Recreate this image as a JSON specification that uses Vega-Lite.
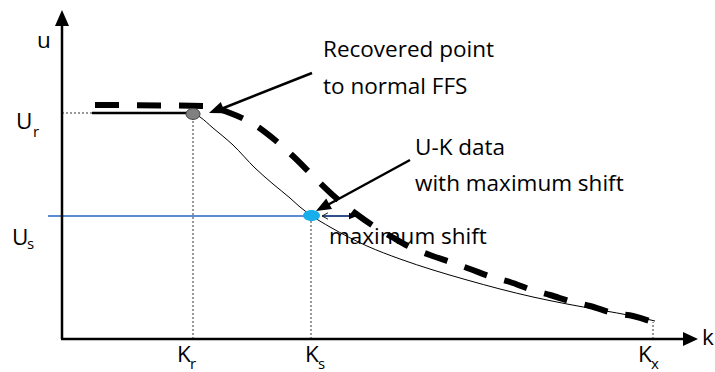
{
  "$schema": "https://vega.github.io/schema/vega-lite/v6.json",
  "width": 715,
  "height": 372,
  "autosize": "none",
  "padding": 0,
  "background": "white",
  "config": {"view": {"stroke": null}, "text": {"font": "Open Sans"}},
  "datasets": {
    "axes": [{"k": 62, "u": 33, "k2": 62, "u2": 348}, {"k": 61, "u": 33, "k2": 684, "u2": 33}],
    "dotted": [{"k": 62, "u": 259, "k2": 92, "u2": 259}, {"k": 193, "u": 33, "k2": 193, "u2": 252}, {"k": 311, "u": 33, "k2": 311, "u2": 151}, {"k": 653, "u": 33, "k2": 653, "u2": 50}],
    "uline": [{"k": 48, "u": 156, "k2": 304, "u2": 156}],
    "shift": [{"k": 322, "u": 156, "k2": 354, "u2": 156}],
    "flat": [{"k": 92, "u": 259, "k2": 193, "u2": 259}],
    "pointers": [{"k": 312, "u": 299, "k2": 216, "u2": 261}, {"k": 410, "u": 212, "k2": 322, "u2": 164}],
    "normal": [
      {"k": 95, "u": 267}, {"k": 205, "u": 266}, {"k": 230, "u": 259}, {"k": 255, "u": 247}, {"k": 275, "u": 232},
      {"k": 295, "u": 214}, {"k": 315, "u": 194}, {"k": 335, "u": 175}, {"k": 355, "u": 159}, {"k": 372, "u": 147},
      {"k": 392, "u": 135}, {"k": 410, "u": 125}, {"k": 430, "u": 117}, {"k": 450, "u": 110}, {"k": 470, "u": 103},
      {"k": 492, "u": 95}, {"k": 510, "u": 90}, {"k": 532, "u": 82}, {"k": 550, "u": 77}, {"k": 573, "u": 70},
      {"k": 590, "u": 66}, {"k": 613, "u": 59}, {"k": 633, "u": 56}, {"k": 655, "u": 49}
    ],
    "shifted": [
      {"k": 193, "u": 259}, {"k": 200, "u": 255}, {"k": 213, "u": 244}, {"k": 233, "u": 227}, {"k": 255, "u": 204},
      {"k": 273, "u": 188}, {"k": 290, "u": 174}, {"k": 300, "u": 165}, {"k": 312, "u": 156}, {"k": 330, "u": 145},
      {"k": 367, "u": 126}, {"k": 400, "u": 113}, {"k": 433, "u": 102}, {"k": 467, "u": 92}, {"k": 500, "u": 83},
      {"k": 533, "u": 75}, {"k": 567, "u": 68}, {"k": 600, "u": 62}, {"k": 633, "u": 56}, {"k": 655, "u": 51}
    ],
    "recovered": [{"k": 193, "u": 258}],
    "maxshift": [{"k": 311.5, "u": 156.5}],
    "labels": [
      {"k": 37, "u": 324, "t": "u"}, {"k": 16, "u": 243, "t": "U"}, {"k": 12, "u": 127, "t": "U"},
      {"k": 177, "u": 10, "t": "K"}, {"k": 305, "u": 10, "t": "K"}, {"k": 638, "u": 10, "t": "K"}, {"k": 702, "u": 27, "t": "k"},
      {"k": 323, "u": 315, "t": "Recovered point"}, {"k": 323, "u": 278, "t": "to normal FFS"},
      {"k": 415, "u": 217, "t": "U-K data"}, {"k": 415, "u": 181, "t": "with maximum shift"},
      {"k": 329, "u": 128, "t": "maximum shift"}
    ],
    "subs": [
      {"k": 33, "u": 235, "t": "r"}, {"k": 27, "u": 123, "t": "s"},
      {"k": 190, "u": 3, "t": "r"}, {"k": 318, "u": 3, "t": "s"}, {"k": 651, "u": 3, "t": "x"}
    ]
  },
  "encoding": {
    "x": {"field": "k", "type": "quantitative", "scale": {"domain": [0, 715], "nice": false, "zero": false}, "axis": null},
    "y": {"field": "u", "type": "quantitative", "scale": {"domain": [0, 372], "nice": false, "zero": false}, "axis": null}
  },
  "layer": [
    {"data": {"name": "dotted"}, "mark": {"type": "rule", "stroke": "#333333", "strokeWidth": 1, "strokeDash": [2, 2]}, "encoding": {"x2": {"field": "k2"}, "y2": {"field": "u2"}}},
    {"data": {"name": "uline"}, "mark": {"type": "rule", "stroke": "#5B8BD0", "strokeWidth": 2}, "encoding": {"x2": {"field": "k2"}, "y2": {"field": "u2"}}},
    {"data": {"name": "shift"}, "mark": {"type": "rule", "stroke": "#2F4F8F", "strokeWidth": 2}, "encoding": {"x2": {"field": "k2"}, "y2": {"field": "u2"}}},
    {"data": {"name": "shifted"}, "mark": {"type": "line", "stroke": "black", "strokeWidth": 1, "interpolate": "monotone"}, "encoding": {}},
    {"data": {"name": "normal"}, "mark": {"type": "line", "stroke": "black", "strokeWidth": 6, "strokeDash": [24, 18], "strokeCap": "butt", "interpolate": "monotone"}, "encoding": {}},
    {"data": {"name": "flat"}, "mark": {"type": "rule", "stroke": "black", "strokeWidth": 2.5}, "encoding": {"x2": {"field": "k2"}, "y2": {"field": "u2"}}},
    {"data": {"name": "axes"}, "mark": {"type": "rule", "stroke": "black", "strokeWidth": 2.5}, "encoding": {"x2": {"field": "k2"}, "y2": {"field": "u2"}}},
    {"data": {"values": [{"k": 62, "u": 362}]}, "mark": {"type": "point", "shape": "M0,0L0.875,2L-0.875,2Z", "size": 256, "filled": true, "color": "black", "opacity": 1, "strokeWidth": 0}},
    {"data": {"values": [{"k": 698, "u": 33}]}, "mark": {"type": "point", "shape": "M0,0L-2,-0.9375L-2,0.9375Z", "size": 225, "filled": true, "color": "black", "opacity": 1, "strokeWidth": 0}},
    {"data": {"name": "pointers"}, "mark": {"type": "rule", "stroke": "black", "strokeWidth": 2.5}, "encoding": {"x2": {"field": "k2"}, "y2": {"field": "u2"}}},
    {"data": {"values": [{"k": 209, "u": 259}]}, "mark": {"type": "point", "shape": "M0,0L-2,-0.8L-2,0.8Z", "size": 225, "angle": 158.8, "filled": true, "color": "black", "opacity": 1, "strokeWidth": 0}},
    {"data": {"values": [{"k": 316, "u": 161}]}, "mark": {"type": "point", "shape": "M0,0L-2,-0.8L-2,0.8Z", "size": 225, "angle": 151, "filled": true, "color": "black", "opacity": 1, "strokeWidth": 0}},
    {"data": {"values": [{"k": 322, "u": 156}]}, "mark": {"type": "point", "shape": "M1.5,-0.8L0,0L1.5,0.8", "size": 64, "filled": false, "stroke": "#222222", "strokeWidth": 1, "opacity": 1}},
    {"data": {"values": [{"k": 357, "u": 156}]}, "mark": {"type": "point", "shape": "M0,0L-2,-0.8L-2,0.8Z", "size": 64, "filled": true, "color": "black", "opacity": 1, "strokeWidth": 0}},
    {"data": {"name": "recovered"}, "mark": {"type": "point", "shape": "M-1,0A1,0.78,0,1,0,1,0A1,0.78,0,1,0,-1,0Z", "size": 196, "filled": true, "fill": "#808080", "stroke": "#404040", "strokeWidth": 1, "opacity": 1}},
    {"data": {"name": "maxshift"}, "mark": {"type": "point", "shape": "M-1,0A1,0.65,0,1,0,1,0A1,0.65,0,1,0,-1,0Z", "size": 289, "filled": true, "fill": "#17AEEB", "strokeWidth": 0, "opacity": 1}},
    {"data": {"name": "labels"}, "mark": {"type": "text", "align": "left", "baseline": "alphabetic", "fontSize": 22.5, "color": "black"}, "encoding": {"text": {"field": "t"}}},
    {"data": {"name": "subs"}, "mark": {"type": "text", "align": "left", "baseline": "alphabetic", "fontSize": 15, "color": "black"}, "encoding": {"text": {"field": "t"}}}
  ]
}
